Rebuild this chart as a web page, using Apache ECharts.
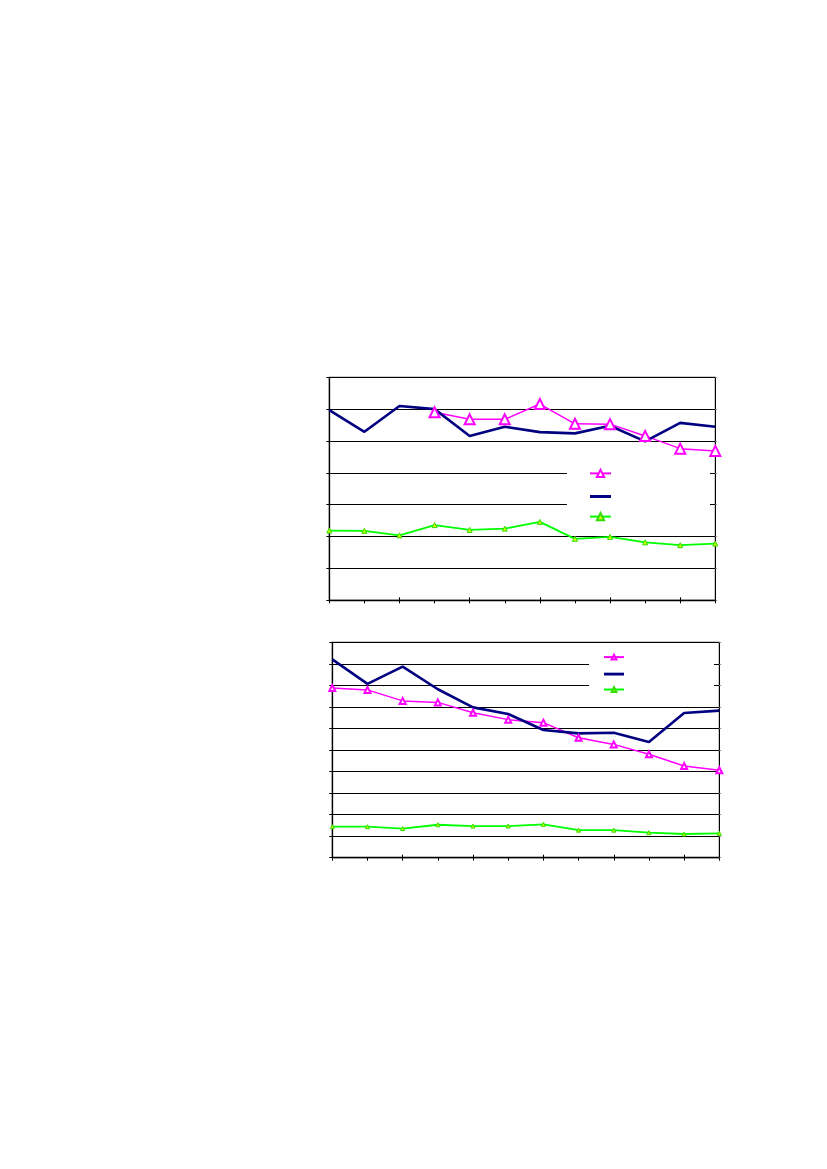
<!DOCTYPE html>
<html><head><meta charset="utf-8">
<script src="https://cdn.jsdelivr.net/npm/echarts@6/dist/echarts.min.js"></script>
<style>html,body{margin:0;padding:0;background:#fff}#c{width:827px;height:1169px}</style>
</head><body><div id="c"></div>
<script>
const categories = ['1','2','3','4','5','6','7','8','9','10','11','12'];
// top panel (axis 0..70)
const topMagenta = [null,null,null,59.0,56.8,56.8,61.6,55.4,55.3,51.6,47.6,46.9];
const topNavy    = [59.7,52.9,61.0,60.0,51.6,54.5,52.8,52.4,54.8,49.9,55.7,54.5];
const topGreen   = [21.9,21.8,20.4,23.6,22.1,22.5,24.6,19.3,19.9,18.2,17.3,17.8];
// bottom panel (axis 0..100)
const botMagenta = [78.8,77.9,72.8,72.1,67.3,64.1,62.7,55.7,52.6,48.0,42.6,40.6];
const botNavy    = [92.1,80.7,88.7,78.2,69.8,66.7,59.3,57.7,58.0,53.7,67.2,68.3];
const botGreen   = [14.4,14.4,13.5,15.3,14.7,14.7,15.5,12.8,12.8,11.6,11.0,11.3];
const seriesNames = ['A','B','C'];

const MAG='#FF00FF', NAVY='#000080', GREEN='#00FF00';
function xAxes(grid){
  return [
    {type:'category',gridIndex:grid,data:categories,boundaryGap:false,
     axisLine:{lineStyle:{color:'#000',width:1.3}},
     axisTick:{show:true,inside:false,length:3,interval:0,lineStyle:{color:'#000'}},
     axisLabel:{show:false},splitLine:{show:false}},
    {type:'category',gridIndex:grid,data:categories,boundaryGap:false,position:'bottom',
     axisLine:{show:false},
     axisTick:{show:true,inside:true,length:3,interval:(i)=>i%2===0,lineStyle:{color:'#000'}},
     axisLabel:{show:false},splitLine:{show:false}}
  ];
}
function yAxes(grid,max){
  return [
    {type:'value',gridIndex:grid,min:0,max:max,interval:10,
     axisLine:{show:true,lineStyle:{color:'#000',width:1.3}},
     axisTick:{show:true,length:3,lineStyle:{color:'#000'}},
     axisLabel:{show:false},
     splitLine:{show:true,lineStyle:{color:'#000',width:1}}},
    {type:'value',gridIndex:grid,min:0,max:max,interval:10,position:'right',
     axisLine:{show:true,lineStyle:{color:'#000',width:1}},
     axisTick:{show:true,length:2,lineStyle:{color:'#999'}},
     axisLabel:{show:false},splitLine:{show:false}}
  ];
}
const xa = xAxes(0).concat(xAxes(1));
const ya = yAxes(0,70).concat(yAxes(1,100));

function mk(name,data,xi,yi,color,opts){
  return Object.assign({name:name,type:'line',data:data,xAxisIndex:xi,yAxisIndex:yi,
    color:color,animation:false,connectNulls:false,z:3},opts);
}
const series = [
  mk(seriesNames[0],topMagenta,0,0,MAG,{symbol:'emptyTriangle',symbolSize:10,
    lineStyle:{color:MAG,width:1.5},itemStyle:{color:MAG,borderColor:MAG,borderWidth:1.2}}),
  mk(seriesNames[1],topNavy,0,0,NAVY,{showSymbol:false,symbol:'none',
    lineStyle:{color:NAVY,width:2.6},itemStyle:{color:NAVY}}),
  mk(seriesNames[2],topGreen,0,0,GREEN,{symbol:'triangle',symbolSize:5,
    lineStyle:{color:GREEN,width:1.8},itemStyle:{color:'#CCFF00',borderColor:'#33DD00',borderWidth:1}}),
  mk(seriesNames[0],botMagenta,2,2,MAG,{symbol:'emptyTriangle',symbolSize:6,
    lineStyle:{color:MAG,width:1.5},itemStyle:{color:MAG,borderColor:MAG,borderWidth:1.2}}),
  mk(seriesNames[1],botNavy,2,2,NAVY,{showSymbol:false,symbol:'none',
    lineStyle:{color:NAVY,width:2.6},itemStyle:{color:NAVY}}),
  mk(seriesNames[2],botGreen,2,2,GREEN,{symbol:'triangle',symbolSize:4,
    lineStyle:{color:GREEN,width:1.8},itemStyle:{color:'#CCFF00',borderColor:'#33DD00',borderWidth:1}})
];
const navyIcon = 'path://M0,0H21V3H0Z';
function legendData(){
  return [{name:seriesNames[0]},{name:seriesNames[1],icon:navyIcon},{name:seriesNames[2]}];
}

const chart = echarts.init(document.getElementById('c'),null,{renderer:'canvas'});
chart.setOption({
  backgroundColor:'#fff',
  animation:false,
  grid:[
    {left:329.3,right:111.7,top:377.3,bottom:568.7,show:true,borderColor:'#000',borderWidth:1,backgroundColor:'transparent'},
    {left:332.3,right:107.7,top:642.3,bottom:311.3,show:true,borderColor:'#000',borderWidth:1,backgroundColor:'transparent'}
  ],
  xAxis:xa,
  yAxis:ya,
  legend:[
    {orient:'vertical',left:567,top:454,itemWidth:21,itemHeight:9,itemGap:14,z:1,
     padding:[14.8,98,8.5,22],backgroundColor:'#fff',formatter:()=>'',
     data:legendData(),selectedMode:false,textStyle:{fontSize:1}},
    {orient:'vertical',left:589,top:646,itemWidth:20,itemHeight:6,itemGap:10.6,z:1,
     padding:[7.7,89,5,14],backgroundColor:'#fff',formatter:()=>'',
     data:legendData(),selectedMode:false,textStyle:{fontSize:1}}
  ],
  series:series
});
</script></body></html>
